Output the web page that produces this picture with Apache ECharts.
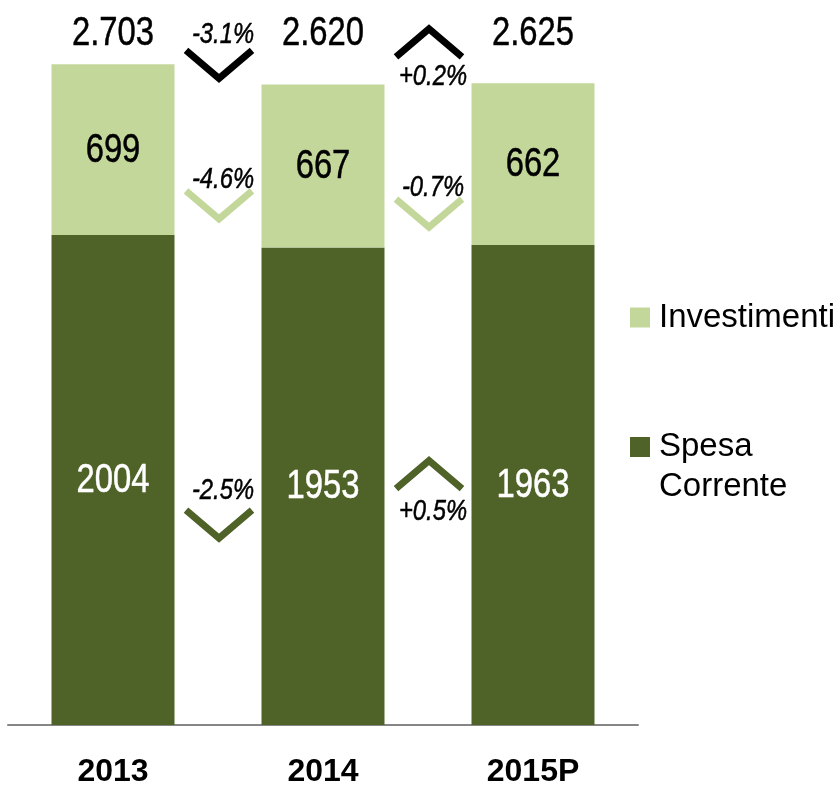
<!DOCTYPE html>
<html>
<head>
<meta charset="utf-8">
<script src="https://cdn.jsdelivr.net/npm/echarts@6/dist/echarts.min.js"></script>
<style>
  html, body { margin: 0; padding: 0; background: #fff; }
  #chart { width: 838px; height: 787px; }
</style>
</head>
<body>
<div id="chart"></div>
<script>
const categories = ['2013', '2014', '2015P']
const spesaCorrente = [2004, 1953, 1963]
const investimenti = [699, 667, 662]
const totalChange = ['-3.1%', '+0.2%']
const investChange = ['-4.6%', '-0.7%']
const spesaChange = ['-2.5%', '+0.5%']

const totals = categories.map((c, i) => spesaCorrente[i] + investimenti[i])

const SANS = '"Liberation Sans", Arial, sans-serif'
const NARROW = 0.82 // Arial Narrow look: Liberation Sans squeezed horizontally
const LIGHT = '#C4D79B'
const DARK = '#4F6228'

// value labels (drawn squeezed, so they go through a custom series)
const topLevel = Math.max(...totals)
const valueLabels = []
categories.forEach((c, i) => {
  valueLabels.push({ cat: i, level: spesaCorrente[i] / 2, text: String(spesaCorrente[i]), color: '#fff', dy: 1 })
  valueLabels.push({ cat: i, level: spesaCorrente[i] + investimenti[i] / 2, text: String(investimenti[i]), color: '#000', dy: 1 })
  valueLabels.push({ cat: i, level: topLevel, text: (totals[i] / 1000).toFixed(3), color: '#000', dy: -30 })
})

// chevrons sit between two bars, anchored to the level of the segment they compare
// (pixel nudges from the reference layout: chevron, then its % text)
const chevronShift = { total: [-10, -41], invest: [47, 48], spesa: [41, -11] }
const textShift = { total: [-29, 34], invest: [-25, -25], spesa: [-33, 37] }
const notes = []
for (let i = 0; i < categories.length - 1; i++) {
  notes.push({ from: i, anchor: (totals[i] + totals[i + 1]) / 2, text: totalChange[i], color: '#000', dy: chevronShift.total[i], ty: textShift.total[i] })
  notes.push({
    from: i,
    anchor: (spesaCorrente[i] + investimenti[i] / 2 + spesaCorrente[i + 1] + investimenti[i + 1] / 2) / 2,
    text: investChange[i], color: LIGHT, dy: chevronShift.invest[i], ty: textShift.invest[i]
  })
  notes.push({ from: i, anchor: (spesaCorrente[i] + spesaCorrente[i + 1]) / 4, text: spesaChange[i], color: DARK, dy: chevronShift.spesa[i], ty: textShift.spesa[i] })
}

const chart = echarts.init(document.getElementById('chart'))
const option = {
  animation: false,
  grid: { left: 8, right: 200, top: 16, bottom: 62, outerBoundsMode: 'none', containLabel: false },
  legend: [
    {
      data: ['Investimenti'],
      orient: 'vertical',
      left: 630,
      top: 301,
      padding: 0,
      itemWidth: 20,
      itemHeight: 20,
      icon: 'rect',
      textStyle: { fontSize: 33, fontFamily: SANS, color: '#000', padding: [0, 0, 0, 4] }
    },
    {
      data: ['Spesa Corrente'],
      orient: 'vertical',
      left: 630,
      top: 387,
      padding: 0,
      itemWidth: 20,
      itemHeight: 20,
      icon: 'rect',
      // blank first line keeps "Spesa" level with the swatch
      formatter: () => ' \nSpesa\nCorrente',
      textStyle: { fontSize: 33, lineHeight: 40, fontFamily: SANS, color: '#000', padding: [0, 0, 0, 4] }
    }
  ],
  xAxis: {
    type: 'category',
    data: categories,
    axisLine: { lineStyle: { color: '#868686', width: 2 } },
    axisTick: { show: false },
    axisLabel: { fontSize: 32, fontWeight: 'bold', fontFamily: SANS, color: '#000', margin: 31 }
  },
  yAxis: { type: 'value', min: 0, max: 2900, show: false, splitLine: { show: false } },
  series: [
    {
      name: 'Spesa Corrente',
      type: 'bar',
      stack: 'tot',
      barWidth: 123,
      data: spesaCorrente,
      itemStyle: { color: DARK }
    },
    {
      name: 'Investimenti',
      type: 'bar',
      stack: 'tot',
      barWidth: 123,
      data: investimenti,
      itemStyle: { color: LIGHT }
    },
    {
      name: 'Valori',
      type: 'custom',
      silent: true,
      z: 6,
      data: valueLabels.map(v => [v.cat, v.level]),
      renderItem: function (params, api) {
        const v = valueLabels[params.dataIndex]
        const p = api.coord([v.cat, v.level])
        return {
          type: 'text',
          x: p[0],
          y: p[1] + v.dy,
          scaleX: NARROW,
          style: {
            text: v.text, font: '40px ' + SANS, fill: v.color,
            stroke: v.color, lineWidth: 0.5,
            align: 'center', verticalAlign: 'middle'
          }
        }
      }
    },
    {
      name: 'Variazioni',
      type: 'custom',
      silent: true,
      z: 5,
      data: notes.map(n => [n.from, n.anchor]),
      renderItem: function (params, api) {
        const n = notes[params.dataIndex]
        const p = api.coord([n.from, n.anchor])
        const band = api.size([1, 0])[0]
        const cx = p[0] + band / 2 + 1
        const cy = p[1] + n.dy
        const s = n.text.charAt(0) === '+' ? -1 : 1
        return {
          type: 'group',
          children: [
            {
              type: 'polyline',
              shape: { points: [[cx - 33, cy - s * 14], [cx, cy + s * 14], [cx + 33, cy - s * 14]] },
              style: { stroke: n.color, lineWidth: 7, fill: null, lineJoin: 'miter', lineCap: 'butt' }
            },
            {
              type: 'text',
              x: cx + 4,
              y: cy + n.ty,
              scaleX: NARROW,
              z2: 10,
              style: {
                text: n.text, font: 'italic 29px ' + SANS, fill: '#000',
                stroke: '#000', lineWidth: 0.5,
                align: 'center', verticalAlign: 'middle'
              }
            }
          ]
        }
      }
    }
  ]
}
option && chart.setOption(option)
</script>
</body>
</html>
